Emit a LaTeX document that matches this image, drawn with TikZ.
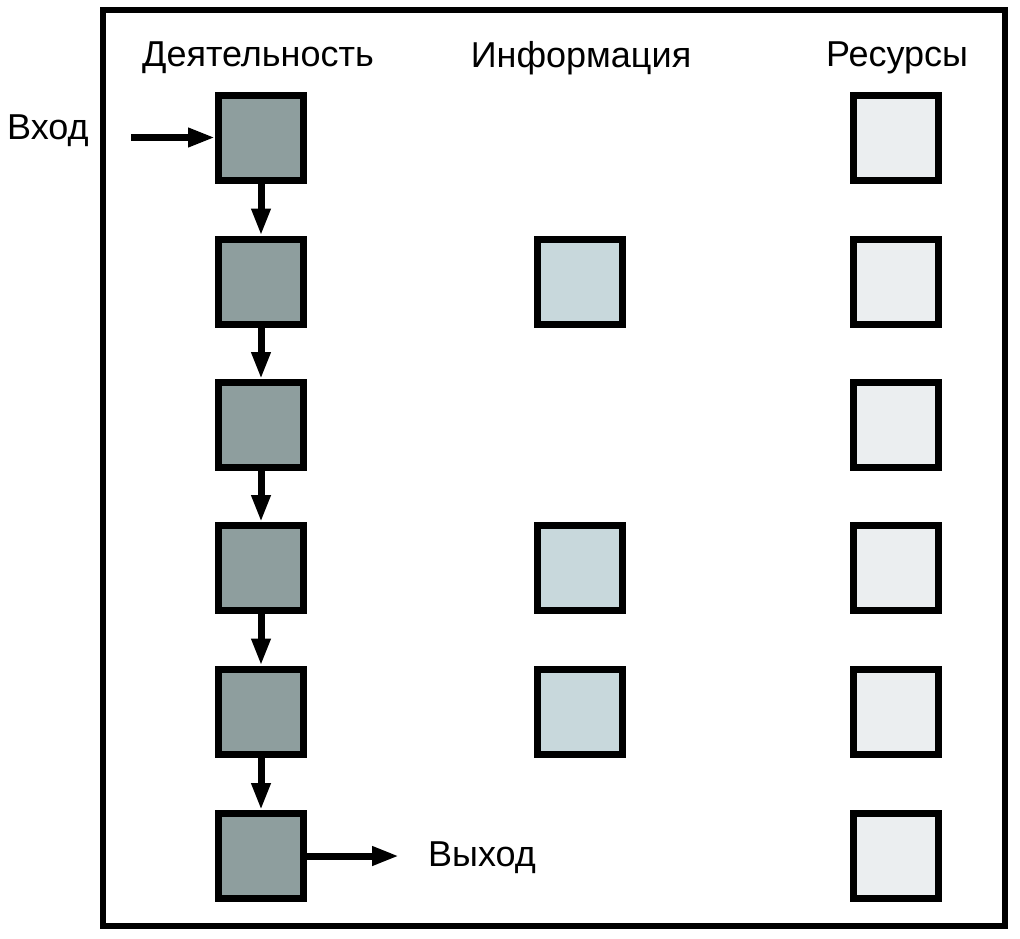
\documentclass[tikz,border=0pt]{standalone}
\usepackage{fontspec}
\setmainfont{Liberation Sans}
\usetikzlibrary{arrows.meta}
\begin{document}
\begin{tikzpicture}[x=1pt,y=-1pt,
  box/.style={draw=black,line width=7pt,minimum size=85pt,inner sep=0pt},
  act/.style={box,fill={rgb,255:red,142;green,158;blue,158}},
  info/.style={box,fill={rgb,255:red,200;green,216;blue,220}},
  res/.style={box,fill={rgb,255:red,235;green,238;blue,240}},
  lbl/.style={inner sep=0pt,font=\fontsize{36}{40}\selectfont},
  arr/.style={line width=7pt,-{Triangle[length=27pt,width=18pt]}}]
\useasboundingbox (0,0) rectangle (1020,938);
\draw[line width=6pt] (103,10) rectangle (1005,926);
\node[lbl] (h1) at (258,58) {Деятельность};
\node[lbl] (h2) at (581,58) {Информация};
\node[lbl] (h3) at (897,58) {Ресурсы};
\foreach \i/\y in {1/137.5,2/281.5,3/425,4/568,5/711.5,6/856}{
  \node[act] (a\i) at (261,\y) {};
  \node[res] (r\i) at (896,\y) {};
}
\node[info] (i2) at (579.5,281.5) {};
\node[info] (i4) at (579.5,568) {};
\node[info] (i5) at (579.5,711.5) {};
\node[lbl,anchor=west] (in) at (7,131) {Вход};
\node[lbl,anchor=west] (out) at (428,858) {Выход};
\coordinate (s) at (131,137.5);
\coordinate (e) at (399,856);
\draw[arr] (s) -- (a1.west);
\draw[arr] (a6.east) -- (e);
\foreach \i/\j in {1/2,2/3,3/4,4/5,5/6}{
  \draw[arr] (a\i.south) -- (a\j.north);
}
\end{tikzpicture}
\end{document}
